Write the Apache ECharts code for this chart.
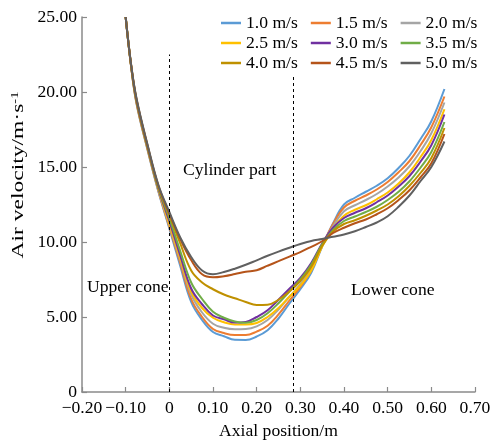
<!DOCTYPE html>
<html>
<head>
<meta charset="utf-8">
<script src="https://cdn.jsdelivr.net/npm/echarts@6/dist/echarts.min.js"></script>
<style>html,body{margin:0;padding:0;background:#fff}#c{width:493px;height:440px}</style>
</head>
<body>
<div id="c"></div>
<script>
const xs = [-0.1, -0.0875, -0.075, -0.05, -0.025, 0, 0.025, 0.05, 0.075, 0.1, 0.125, 0.15, 0.175, 0.2, 0.225, 0.25, 0.275, 0.3, 0.325, 0.35, 0.375, 0.4, 0.425, 0.45, 0.475, 0.5, 0.525, 0.55, 0.575, 0.6, 0.63];
const seriesNames = ['1.0 m/s','1.5 m/s','2.0 m/s','2.5 m/s','3.0 m/s','3.5 m/s','4.0 m/s','4.5 m/s','5.0 m/s'];
const v10 = [25, 21.7, 19.2, 16.15, 13.35, 10.9, 8.4, 6.0, 4.8, 4.0, 3.72, 3.48, 3.47, 3.7, 4.12, 4.9, 5.9, 6.85, 7.95, 9.7, 11.25, 12.5, 12.95, 13.35, 13.75, 14.25, 14.93, 15.75, 16.85, 18.05, 20.2];
const v15 = [25, 21.7, 19.25, 16.2, 13.4, 11.0, 8.6, 6.2, 5.0, 4.2, 3.93, 3.8, 3.8, 4.03, 4.42, 5.17, 6.1, 7.0, 8.1, 9.75, 11.2, 12.3, 12.75, 13.1, 13.5, 14.0, 14.65, 15.4, 16.45, 17.65, 19.7];
const v20 = [25, 21.72, 19.3, 16.25, 13.45, 11.1, 8.8, 6.5, 5.3, 4.55, 4.28, 4.18, 4.2, 4.38, 4.8, 5.5, 6.35, 7.2, 8.25, 9.8, 11.05, 12.05, 12.45, 12.8, 13.2, 13.7, 14.3, 15.05, 16.05, 17.25, 19.3];
const v25 = [25, 21.72, 19.3, 16.25, 13.5, 11.2, 8.9, 6.7, 5.6, 4.95, 4.65, 4.5, 4.5, 4.6, 5.0, 5.6, 6.35, 7.1, 8.1, 9.7, 10.9, 11.75, 12.15, 12.45, 12.85, 13.3, 13.9, 14.65, 15.65, 16.8, 18.85];
const v30 = [25, 21.75, 19.35, 16.3, 13.55, 11.4, 9.1, 6.9, 5.85, 5.1, 4.85, 4.63, 4.67, 5.0, 5.45, 6.15, 6.88, 7.6, 8.6, 9.9, 10.95, 11.6, 11.95, 12.25, 12.65, 13.1, 13.7, 14.4, 15.35, 16.45, 18.5];
const v35 = [25, 21.76, 19.4, 16.35, 13.6, 11.6, 9.4, 7.3, 6.2, 5.35, 4.95, 4.7, 4.62, 4.8, 5.25, 5.92, 6.7, 7.5, 8.5, 9.85, 10.8, 11.4, 11.7, 12.0, 12.35, 12.8, 13.35, 14.05, 14.95, 16.0, 18.0];
const v40 = [25, 21.78, 19.45, 16.4, 13.7, 11.8, 9.9, 8.1, 7.3, 6.85, 6.5, 6.25, 6.0, 5.8, 5.82, 6.15, 6.7, 7.4, 8.35, 9.75, 10.7, 11.2, 11.45, 11.75, 12.1, 12.5, 13.05, 13.75, 14.6, 15.6, 17.6];
const v45 = [25, 21.8, 19.5, 16.45, 13.75, 11.9, 10.2, 8.8, 7.85, 7.65, 7.72, 7.86, 8.02, 8.12, 8.42, 8.72, 9.03, 9.33, 9.68, 10.05, 10.6, 10.95, 11.25, 11.5, 11.85, 12.25, 12.8, 13.45, 14.3, 15.25, 17.2];
const v50 = [25, 21.82, 19.55, 16.5, 13.8, 12.0, 10.3, 9.0, 8.1, 7.85, 8.0, 8.22, 8.48, 8.78, 9.08, 9.36, 9.62, 9.87, 10.07, 10.2, 10.35, 10.5, 10.72, 11.0, 11.3, 11.72, 12.35, 13.1, 14.05, 15.0, 16.7];
const allValues = [v10, v15, v20, v25, v30, v35, v40, v45, v50];
const colors = ['#5B9BD5','#ED7D31','#A5A5A5','#FFC000','#7030A0','#70AD47','#BF9000','#B5541A','#606060'];
const boundaryX = [0, 0.283];
const boundaryTop = [22.5, 21.0];
const xTicks = [-0.2, -0.1, 0, 0.1, 0.2, 0.3, 0.4, 0.5, 0.6, 0.7];
const yTicks = [0, 5, 10, 15, 20, 25];

const FONT = '"Liberation Serif", "Times New Roman", serif';
const chart = echarts.init(document.getElementById('c'), null, {renderer: 'canvas'});

function fmtX(v) {
  if (Math.abs(v) < 1e-9) return '0';
  const s = Math.abs(v).toFixed(2);
  return v < 0 ? '\u2212' + s : s;
}
function fmtY(v) {
  if (Math.abs(v) < 1e-9) return '0';
  return v.toFixed(2);
}

const series = seriesNames.map((name, i) => {
  const s = {
    name: name,
    type: 'line',
    smooth: 0.4,
    symbol: 'none',
    showSymbol: false,
    data: xs.map((x, j) => [x, allValues[i][j]]),
    lineStyle: {color: colors[i], width: 2},
    itemStyle: {color: colors[i]},
    z: 2
  };
  if (i === 0) {
    s.markLine = {
      silent: true,
      symbol: 'none',
      animation: false,
      label: {show: false},
      lineStyle: {color: '#000', type: [3, 3], width: 1},
      data: boundaryX.map((bx, k) => [{coord: [bx, 0]}, {coord: [bx, boundaryTop[k]]}])
    };
  }
  return s;
});

const legendCommon = {
  icon: 'rect',
  itemWidth: 20,
  itemHeight: 2.5,
  itemGap: 13,
  padding: 0,
  orient: 'horizontal',
  left: 221,
  textStyle: {fontFamily: FONT, fontSize: 17.6, color: '#000'},
  selectedMode: false
};

const option = {
  animation: false,
  backgroundColor: '#fff',
  color: colors,
  grid: {left: 82, right: 18, top: 17, bottom: 48, containLabel: false, outerBoundsMode: 'none'},
  legend: [
    Object.assign({}, legendCommon, {top: 14, data: seriesNames.slice(0, 3)}),
    Object.assign({}, legendCommon, {top: 34, data: seriesNames.slice(3, 6)}),
    Object.assign({}, legendCommon, {top: 54, data: seriesNames.slice(6, 9)})
  ],
  xAxis: {
    type: 'value',
    min: xTicks[0], max: xTicks[xTicks.length - 1], interval: 0.1,
    name: 'Axial position/m',
    nameLocation: 'middle',
    nameGap: 29,
    nameTextStyle: {fontFamily: FONT, fontSize: 17.6, color: '#000'},
    axisLine: {show: true, onZero: false, lineStyle: {color: '#8a8a8a', width: 1.5}},
    axisTick: {show: true, inside: true, length: 5, lineStyle: {color: '#8a8a8a', width: 1.2}},
    axisLabel: {fontFamily: FONT, fontSize: 17.6, color: '#000', margin: 7, formatter: fmtX},
    splitLine: {show: false}
  },
  yAxis: {
    type: 'value',
    min: yTicks[0], max: yTicks[yTicks.length - 1], interval: 5,
    axisLine: {show: true, onZero: false, lineStyle: {color: '#8a8a8a', width: 1.5}},
    axisTick: {show: true, inside: true, length: 5, lineStyle: {color: '#8a8a8a', width: 1.2}},
    axisLabel: {fontFamily: FONT, fontSize: 17.6, color: '#000', margin: 5, formatter: fmtY},
    splitLine: {show: false}
  },
  graphic: [
    {type: 'text', x: 19, y: 175, rotation: Math.PI / 2, scaleX: 1.47, z: 10,
      style: {text: 'Air velocity/m\u00B7s{sup|-1}', fontFamily: FONT, fontSize: 16, fill: '#000', align: 'center', verticalAlign: 'middle',
        rich: {sup: {fontFamily: FONT, fontSize: 10, fill: '#000', verticalAlign: 'top', padding: [0, 0, 8, 0]}}}},
    {type: 'text', x: 87, y: 287, z: 10, style: {text: 'Upper cone', fontFamily: FONT, fontSize: 17.6, fill: '#000', align: 'left', verticalAlign: 'middle'}},
    {type: 'text', x: 183, y: 170, z: 10, style: {text: 'Cylinder part', fontFamily: FONT, fontSize: 17.6, fill: '#000', align: 'left', verticalAlign: 'middle'}},
    {type: 'text', x: 351, y: 290, z: 10, style: {text: 'Lower cone', fontFamily: FONT, fontSize: 17.6, fill: '#000', align: 'left', verticalAlign: 'middle'}}
  ],
  series: series
};
chart.setOption(option);
</script>
</body>
</html>
